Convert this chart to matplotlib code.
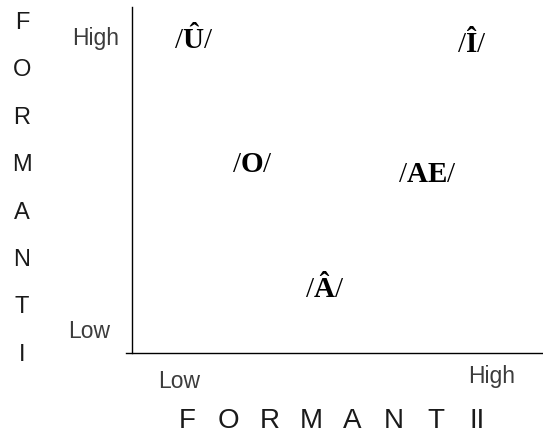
import matplotlib
matplotlib.use("Agg")
import matplotlib.pyplot as plt
import numpy as np

# vowel chart: formant II (x) vs formant I (y), both on 0..1 scale
vowels = ["Û", "O", "AE", "Î", "Â"]
formant2 = [0.163, 0.302, 0.722, 0.830, 0.477]
formant1 = [0.882, 0.523, 0.494, 0.870, 0.162]

y_title = ["F", "O", "R", "M", "A", "N", "T", "I"]
x_title = ["F", "O", "R", "M", "A", "N", "T", "II"]
scale_labels = ["Low", "High"]

plt.rcParams["mathtext.fontset"] = "custom"
plt.rcParams["mathtext.rm"] = "Liberation Serif"
plt.rcParams["mathtext.bf"] = "Liberation Serif:bold"

W, H = 543, 436

def px(x, y):
    # pixel position -> figure fraction
    return x / W, 1 - y / H

fig = plt.figure(figsize=(W / 100, H / 100), dpi=100)
ax = fig.add_axes([126 / W, (H - 353) / H, (W - 126) / W, (353 - 7) / H])
ax.set_xlim(0, 1)
ax.set_ylim(0, 1)
ax.spines["top"].set_visible(False)
ax.spines["right"].set_visible(False)
ax.spines["left"].set_position(("axes", 6 / (W - 126)))
ax.spines["left"].set_linewidth(1.0)
ax.spines["bottom"].set_linewidth(1.0)
ax.set_xticks([])
ax.set_yticks([])

# slashes regular weight, vowel letters bold
for v, x, y in zip(vowels, formant2, formant1):
    lab = r"$\mathrm{/}\mathbf{" + v + r"}\mathrm{/}$"
    ax.text(x, y, lab, ha="center", va="baseline", fontsize=21, color="black")

sans = "Liberation Sans"
gray = "#3c3c3c"

# y scale labels
fig.text(*px(96, 38), scale_labels[1], ha="center", va="center",
         fontsize=16.5, family=sans, color=gray)
fig.text(*px(89, 331), scale_labels[0], ha="center", va="center",
         fontsize=16.5, family=sans, color=gray)
# x scale labels
fig.text(*px(179, 381), scale_labels[0], ha="center", va="center",
         fontsize=16.5, family=sans, color=gray)
fig.text(*px(492, 376), scale_labels[1], ha="center", va="center",
         fontsize=16.5, family=sans, color=gray)

# vertical title, one letter per line
for i, ch in enumerate(y_title):
    fig.text(*px(22, 23 + i * 47.4), ch, ha="center", va="center",
             fontsize=17, family=sans, color="#1a1a1a")

# horizontal title, spaced letters
for i, ch in enumerate(x_title):
    fig.text(*px(187 + i * 41.4, 421), ch, ha="center", va="center",
             fontsize=20, family=sans, color="#1a1a1a")

fig.savefig("out.png", dpi=100)
